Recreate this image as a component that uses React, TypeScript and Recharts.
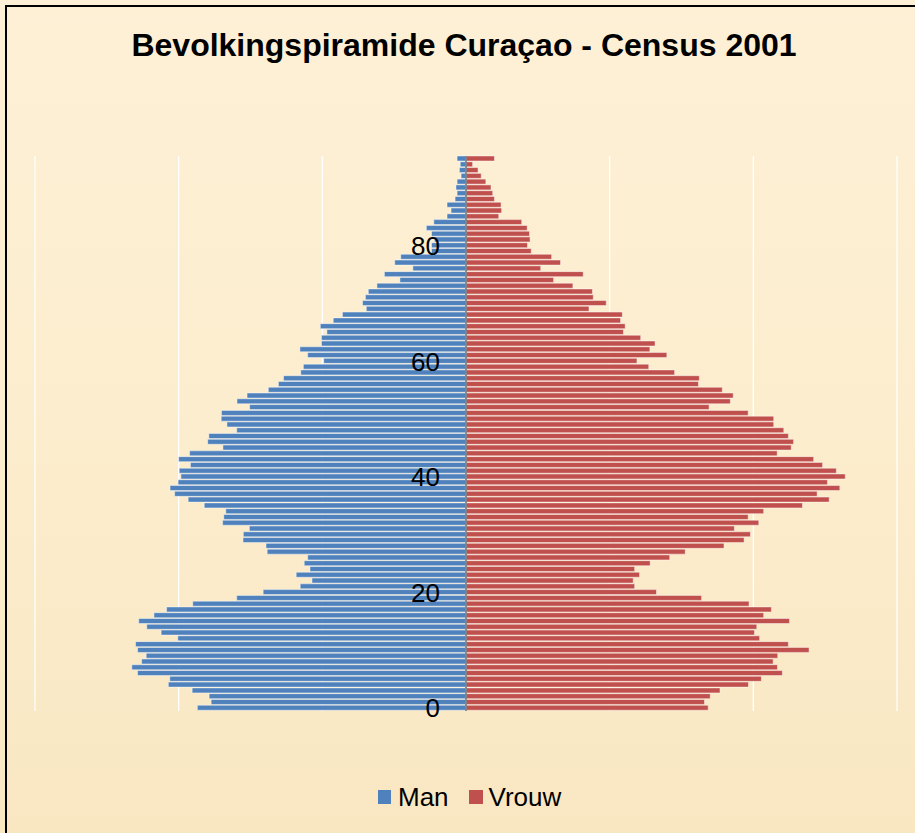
import React from 'react';
import { BarChart, Bar, XAxis, YAxis, CartesianGrid, ReferenceLine } from 'recharts';

// leeftijd 0 t/m 95
const ages = [
  0, 1, 2, 3, 4, 5, 6, 7, 8, 9,
  10, 11, 12, 13, 14, 15, 16, 17, 18, 19,
  20, 21, 22, 23, 24, 25, 26, 27, 28, 29,
  30, 31, 32, 33, 34, 35, 36, 37, 38, 39,
  40, 41, 42, 43, 44, 45, 46, 47, 48, 49,
  50, 51, 52, 53, 54, 55, 56, 57, 58, 59,
  60, 61, 62, 63, 64, 65, 66, 67, 68, 69,
  70, 71, 72, 73, 74, 75, 76, 77, 78, 79,
  80, 81, 82, 83, 84, 85, 86, 87, 88, 89,
  90, 91, 92, 93, 94, 95,
];

const man = [
  935, 887, 894, 953, 1036, 1031, 1143, 1163, 1129, 1113,
  1143, 1150, 1003, 1061, 1111, 1139, 1086, 1042, 951, 798,
  706, 577, 536, 591, 543, 563, 551, 692, 696, 776,
  775, 754, 847, 843, 836, 911, 967, 1014, 1030, 1002,
  992, 998, 959, 1000, 962, 846, 899, 895, 798, 832,
  852, 851, 753, 797, 762, 688, 653, 635, 575, 566,
  495, 551, 578, 503, 503, 484, 507, 462, 430, 347,
  360, 350, 340, 310, 230, 284, 185, 248, 227, 120,
  120, 110, 120, 138, 112, 66, 52, 66, 38, 31,
  35, 31, 17, 23, 20, 31,
];

const vrouw = [
  843, 830, 850, 884, 983, 1028, 1101, 1084, 1069, 1085,
  1194, 1122, 1022, 1004, 1012, 1126, 1036, 1063, 985, 820,
  663, 587, 582, 604, 587, 641, 709, 763, 898, 968,
  990, 934, 1019, 982, 1036, 1171, 1264, 1222, 1301, 1258,
  1320, 1289, 1241, 1210, 1083, 1132, 1140, 1122, 1106, 1071,
  1071, 982, 846, 920, 930, 892, 809, 812, 726, 636,
  595, 699, 640, 658, 608, 548, 554, 538, 544, 428,
  488, 443, 440, 372, 305, 408, 260, 329, 298, 227,
  214, 223, 221, 213, 194, 114, 124, 122, 99, 93,
  87, 69, 53, 42, 23, 99,
];

const ageLabels = [0, 20, 40, 60, 80];
const xTicks = [-1500, -1000, -500, 0, 500, 1000, 1500];

const W = 915;
const H = 833;
const margin = { top: 156, right: 18, bottom: 122, left: 34 };
const centerX = margin.left + 1 + (W - margin.left - 1 - margin.right) / 2;
const font = '"Liberation Sans", Arial, sans-serif';

const data = ages.map((age, i) => ({ age, man: -man[i], vrouw: vrouw[i] }));

const renderAgeTick = (props: any) => {
  const { y, payload } = props;
  if (!ageLabels.includes(Number(payload.value))) return <g />;
  return (
    <text x={centerX - 26} y={y} dy="0.36em" textAnchor="end" fontSize={26} fontFamily={font} fill="#000">
      {payload.value}
    </text>
  );
};

const App = () => {
  return (
    <div
      style={{
        position: 'absolute',
        left: 0,
        top: 0,
        width: W,
        height: H,
        overflow: 'hidden',
        background: 'linear-gradient(180deg, #FEF0D6 0%, #FCEDCE 50%, #F9E7C2 100%)',
        fontFamily: font,
      }}
    >
      <div
        style={{
          position: 'absolute',
          left: 5,
          top: 5,
          width: W + 20,
          height: H + 20,
          borderLeft: '2px solid #000',
          borderTop: '2px solid #000',
        }}
      />
      <div
        style={{
          position: 'absolute',
          left: 0,
          top: 29,
          width: W,
          paddingLeft: 13,
          boxSizing: 'border-box',
          textAlign: 'center',
          fontSize: 32,
          lineHeight: 1,
          fontWeight: 'bold',
          color: '#000',
        }}
      >
        Bevolkingspiramide Curaçao - Census 2001
      </div>

      <div style={{ position: 'absolute', left: 0, top: 0 }}>
        <BarChart width={W} height={H} data={data} layout="vertical" stackOffset="sign" margin={margin}>
          <CartesianGrid horizontal={false} stroke="#FFFFFF" strokeWidth={1.3} />
          <XAxis type="number" domain={[-1500, 1500]} ticks={xTicks} hide />
          <YAxis
            type="category"
            dataKey="age"
            reversed
            width={1}
            interval={0}
            axisLine={false}
            tickLine={false}
            tick={renderAgeTick}
          />
          <Bar dataKey="man" stackId="p" fill="#4F81BD" stroke="rgba(255,255,255,0.45)" strokeWidth={1} barSize={5} isAnimationActive={false} />
          <Bar dataKey="vrouw" stackId="p" fill="#C0504D" stroke="rgba(255,255,255,0.45)" strokeWidth={1} barSize={5} isAnimationActive={false} />
          <ReferenceLine x={0} stroke="#7F7F7F" strokeWidth={1.75} />
        </BarChart>
      </div>

      <div
        style={{
          position: 'absolute',
          left: 378,
          top: 782,
          display: 'flex',
          alignItems: 'center',
          fontSize: 26,
          lineHeight: '30px',
          color: '#000',
        }}
      >
        <span style={{ display: 'inline-block', width: 13, height: 14, background: '#4F81BD', marginRight: 7 }} />
        <span style={{ marginRight: 20 }}>Man</span>
        <span style={{ display: 'inline-block', width: 14, height: 14, background: '#C0504D', marginRight: 6 }} />
        <span>Vrouw</span>
      </div>
    </div>
  );
};

export default App;
